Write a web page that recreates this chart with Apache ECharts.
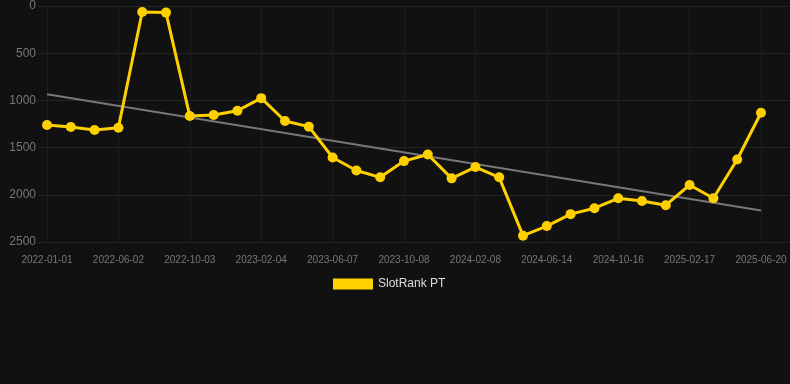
<!DOCTYPE html>
<html><head><meta charset="utf-8">
<script src="https://cdn.jsdelivr.net/npm/echarts@6/dist/echarts.min.js"></script>
<style>html,body{margin:0;padding:0;background:#111;}#c{width:790px;height:384px;}</style>
</head><body><div id="c"></div>
<script>
const categories = ['2022-01-01','2022-02-20','2022-04-12','2022-06-02','2022-07-13','2022-08-23','2022-10-03','2022-11-13','2022-12-24','2023-02-04','2023-03-17','2023-04-27','2023-06-07','2023-07-18','2023-08-28','2023-10-08','2023-11-18','2023-12-29','2024-02-08','2024-03-21','2024-05-03','2024-06-14','2024-07-25','2024-09-04','2024-10-16','2024-11-26','2025-01-06','2025-02-17','2025-03-30','2025-05-10','2025-06-20'];
const slotRankPT = [1260,1282,1313,1289,63,70,1166,1155,1110,976,1218,1278,1605,1742,1815,1643,1573,1826,1706,1815,2433,2331,2205,2142,2037,2065,2110,1896,2037,1626,1131];
const trendStart = 934;
const trendEnd = 2166;
const yTicks = [0,500,1000,1500,2000,2500];
const labelIdx = categories.map((c,i)=>i).filter(i => i % 3 === 0);

const chart = echarts.init(document.getElementById('c'));
const last = categories.length - 1;
chart.setOption({
  backgroundColor: '#111111',
  animation: false,
  grid: {left: 38, right: 0, top: 6, bottom: 142},
  legend: {
    data: ['SlotRank PT'], top: 273, left: 328,
    itemWidth: 40, itemHeight: 11, icon: 'rect', itemGap: 7,
    textStyle: {color: '#dddddd', fontSize: 12, fontFamily: 'Liberation Sans, Arial, sans-serif'}
  },
  xAxis: {
    type: 'value', min: -0.378, max: last + 1.218,
    axisLine: {show: false},
    axisTick: {show: false, customValues: labelIdx},
    axisLabel: {customValues: labelIdx, formatter: v => categories[Math.round(v)] || '', color: '#777', fontSize: 10, margin: 13, fontFamily: 'Liberation Sans, Arial, sans-serif'},
    splitLine: {show: true, lineStyle: {color: '#1d1d1d', width: 1}}
  },
  yAxis: {
    type: 'value', inverse: true, min: yTicks[0], max: yTicks[yTicks.length-1], interval: 500,
    axisLine: {show: false}, axisTick: {show: false},
    axisLabel: {color: '#777', fontSize: 12, margin: 2, formatter: v => String(v), fontFamily: 'Liberation Sans, Arial, sans-serif'},
    splitLine: {lineStyle: {color: '#242424', width: 1}}
  },
  series: [
    {
      name: 'SlotRank PT', type: 'line', data: slotRankPT.map((v,i)=>[i,v]),
      color: '#FFD000',
      lineStyle: {width: 3, color: '#FFD000'},
      symbol: 'circle', symbolSize: 10,
      itemStyle: {color: '#FFD000'}, z: 3
    },
    {
      name: 'trend', type: 'line',
      data: [[0, trendStart], [last, trendEnd]],
      symbol: 'none', lineStyle: {color: '#777', width: 2}, z: 2, silent: true
    }
  ]
});
</script></body></html>
